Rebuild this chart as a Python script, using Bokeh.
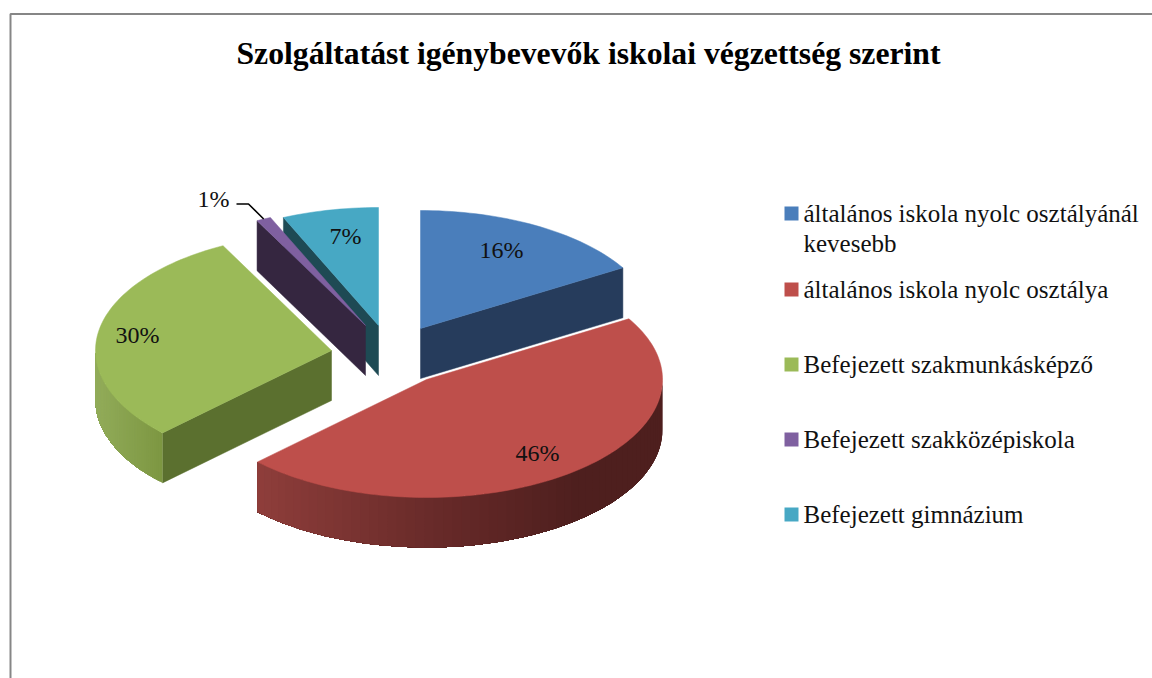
import math
from bokeh.plotting import figure
from bokeh.models import Range1d
from bokeh.core.properties import value
from bokeh.embed import file_html
from bokeh.resources import INLINE

TITLE = "Szolgáltatást igénybevevők iskolai végzettség szerint"
CATEGORIES = ["általános iskola nyolc osztályánál\nkevesebb", "általános iskola nyolc osztálya",
              "Befejezett szakmunkásképző", "Befejezett szakközépiskola", "Befejezett gimnázium"]
VALUES = [16.4, 46.3, 29.7, 1.0, 6.6]

TOP_COLORS = ["#4a7ebb", "#be4f4b", "#9bba58", "#7f60a0", "#47a8c4"]
SIDE_COLORS = ["#263c5c", None, "#5b702f", "#352640", "#1e4a54"]
RIM_STOPS = [None, [(0.0, "#8f3e3b"), (0.45, "#682a29"), (0.8, "#4e1f1e"), (1.0, "#4e1f1e")],
             [(0.0, "#92ac5a"), (1.0, "#7d9742")], None, None]
# screen position of each exploded slice's apex
APEX = [(420, 328), (426, 379), (331, 350), (365, 325), (378, 325)]
LABEL_POS = [(501, 249), (537, 452), (137, 334), (213, 198), (345, 235)]
LEGEND_MID = [213, 289, 364, 439, 514]
RX, RY, DEPTH = 236, 118, 50
FONT = value("Liberation Serif")
DRAW_ORDER = [4, 3, 2, 0, 1]


def hex2rgb(c):
    return tuple(int(c[i:i + 2], 16) for i in (1, 3, 5))


def grad(stops, t):
    for (t0, c0), (t1, c1) in zip(stops, stops[1:]):
        if t <= t1:
            f = (t - t0) / (t1 - t0) if t1 > t0 else 0
            a, b = hex2rgb(c0), hex2rgb(c1)
            return "#%02x%02x%02x" % tuple(round(u + (v - u) * f) for u, v in zip(a, b))
    return stops[-1][1]


p = figure(width=1152, height=678, x_range=Range1d(0, 1152), y_range=Range1d(678, 0),
           output_backend="svg", toolbar_location=None, min_border=0)
p.axis.visible = False
p.grid.visible = False
p.outline_line_color = None
p.background_fill_color = "white"
p.border_fill_color = "white"

# chart frame
p.line([1152, 10, 10], [13.5, 13.5, 678], line_color="#868686", line_width=2)

total = sum(VALUES)
bounds = [0.0]
for v in VALUES:
    bounds.append(bounds[-1] + v / total * 360)


def rim(ax, ay, deg):
    t = math.radians(deg)
    return ax + RX * math.sin(t), ay - RY * math.cos(t)


STEPS = 60
for i in DRAW_ORDER:
    ax, ay = APEX[i]
    a0, a1 = bounds[i], bounds[i + 1]
    # flat cut face
    if SIDE_COLORS[i]:
        edge = a0 if i in (2, 3, 4) else a1
        ex, ey = rim(ax, ay, edge)
        p.patch([ax, ex, ex, ax], [ay, ey, ey + DEPTH, ay + DEPTH],
                fill_color=SIDE_COLORS[i], line_color=SIDE_COLORS[i], line_width=0.5)
    # curved outer wall with a stepped shade; every step reaches to the wall's end and is
    # overpainted by the next, so no seams show
    if RIM_STOPS[i]:
        lo = max(a0, 90) if a0 < 180 else a0
        hi = min(a1, 270)
        arc = [lo + (hi - lo) * k / STEPS for k in range(STEPS + 1)]
        pts = [rim(ax, ay, d) for d in arc]
        xmin, xmax = min(q[0] for q in pts), max(q[0] for q in pts)
        for k in range(STEPS):
            tail = pts[k:]
            t = (pts[k][0] - xmin) / (xmax - xmin)
            col = grad(RIM_STOPS[i], t)
            xs = [q[0] for q in tail] + [q[0] for q in reversed(tail)]
            ys = [q[1] for q in tail] + [q[1] + DEPTH for q in reversed(tail)]
            p.patch(xs, ys, fill_color=col, line_color=None)
    # top face
    n = max(4, int((a1 - a0) / 1.5))
    pts = [rim(ax, ay, a0 + (a1 - a0) * k / n) for k in range(n + 1)]
    p.patch([ax] + [q[0] for q in pts], [ay] + [q[1] for q in pts],
            fill_color=TOP_COLORS[i], line_color=TOP_COLORS[i], line_width=0.5)

# leader line of the smallest slice
lx, ly = rim(APEX[3][0], APEX[3][1], (bounds[3] + bounds[4]) / 2)
p.line([236, 248, lx], [203.5, 203.5, ly], line_color="black", line_width=1.6)

# data labels
p.text([q[0] for q in LABEL_POS], [q[1] for q in LABEL_POS],
       text=[f"{round(v)}%" for v in VALUES], text_font=FONT, text_font_size="24px",
       text_color="#111111", text_align="center", text_baseline="middle")

# title
p.text([588], [53], text=[TITLE], text_font=FONT, text_font_size="31.7px", text_font_style="bold",
       text_color="black", text_align="center", text_baseline="middle")

# legend
for i, name in enumerate(CATEGORIES):
    mid = LEGEND_MID[i]
    p.rect([791], [mid], width=14, height=14, fill_color=TOP_COLORS[i], line_color=None)
    for j, line in enumerate(name.split("\n")):
        p.text([803], [mid + 30 * j], text=[line], text_font=FONT, text_font_size="25px",
               text_color="#111111", text_align="left", text_baseline="middle")

open("out.html", "w").write(file_html(p, INLINE))
